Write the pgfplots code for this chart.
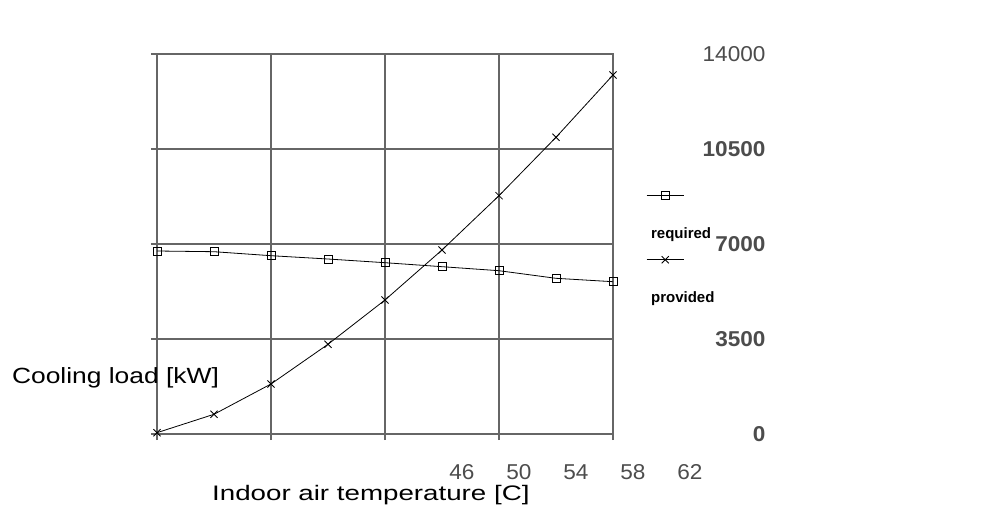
\documentclass[border=0pt]{standalone}
\usepackage{fontspec}
\setmainfont{Liberation Sans}
\newfontfamily\labfont[FakeStretch=1.2]{Liberation Sans}
\newfontfamily\xlabfont[FakeStretch=1.32]{Liberation Sans}
\newfontfamily\tickfont[FakeStretch=1.05]{Liberation Sans}
\usepackage{pgfplots}
\pgfplotsset{compat=1.18}
\definecolor{gridc}{gray}{0.4}
\definecolor{tickc}{gray}{0.3}
\begin{document}
\begin{tikzpicture}
\begin{axis}[
  at={(0pt,0pt)}, anchor=south west,
  scale only axis, width=456pt, height=380pt,
  xmin=30, xmax=62, ymin=0, ymax=14000,
  clip=false,
  axis line style={gridc, line width=1.3pt},
  xtick={30,38,46,54,62}, xticklabels={},
  extra x ticks={46,50,54,58,62},
  extra x tick labels={46,50,54,58,62},
  extra x tick style={xmajorgrids=false, major tick length=0pt, xticklabel style={anchor=center, xshift=77pt, yshift=-38pt}},
  ytick={0,3500,7000,10500,14000},
  yticklabels={\textbf{0},\textbf{3500},\textbf{7000},\textbf{10500},14000},
  scaled y ticks=false,
  xmajorgrids, ymajorgrids,
  major grid style={gridc, line width=1.2pt},
  tick align=outside, major tick length=6pt, tick style={gridc, line width=1.2pt},
  xtick pos=bottom, ytick pos=left, yticklabel pos=right,
  yticklabel style={anchor=east, xshift=150pt},
  ticklabel style={font=\tickfont\fontsize{21.5}{24}\selectfont, text=tickc},
  xlabel={Indoor air temperature [C]},
  xlabel style={at={(axis description cs:0.469,-0.16)}, anchor=center, font=\xlabfont\fontsize{21}{24}\selectfont},
  ylabel={Cooling load [kW]},
  ylabel style={rotate=-90, at={(axis description cs:-0.091,0.147)}, anchor=center, font=\labfont\fontsize{22}{24}\selectfont},
  legend style={draw=none, fill=none, at={(axis description cs:1.077,0.55)}, anchor=north west, inner sep=0pt, row sep=48pt, font=\bfseries\fontsize{15}{17}\selectfont},
  legend cell align=left,
  legend image code/.code={\draw[overlay,mark repeat=2,mark phase=2,#1] plot coordinates {(-2pt,38pt) (16.5pt,38pt) (35pt,38pt)}; \path (0pt,0pt);},
]
\addplot[black, line width=0.8pt, mark=square, mark size=4pt, mark options={solid, line width=0.8pt}] coordinates {
(30,6742) (34,6716) (38,6569) (42,6447) (46,6311) (50,6164) (54,6016) (58,5736) (62,5611)};
\addlegendentry{required}
\addplot[black, line width=0.8pt, mark=x, mark size=5pt, mark options={solid, line width=0.8pt}] coordinates {
(30,48) (34,726) (38,1842) (42,3305) (46,4937) (50,6779) (54,8780) (58,10931) (62,13226)};
\addlegendentry{provided}
\end{axis}
\pgfresetboundingbox
\path[use as bounding box] (-157pt,-90pt) rectangle (825pt,434pt);
\end{tikzpicture}
\end{document}
